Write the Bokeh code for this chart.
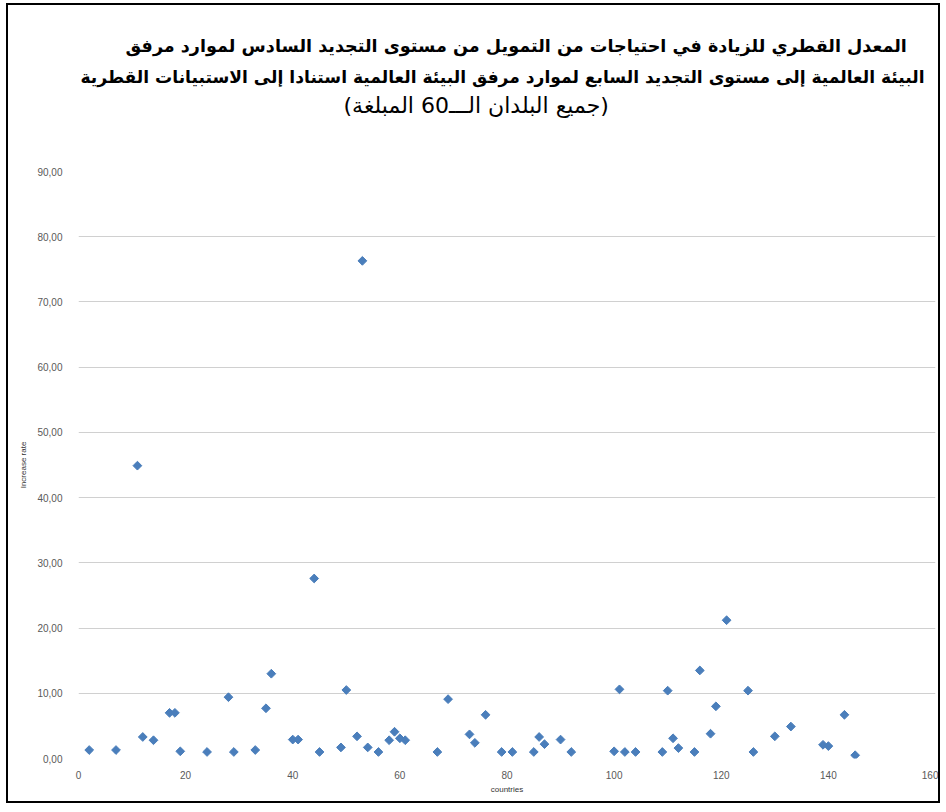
from bokeh.plotting import figure
from bokeh.models import Title, FixedTicker, ColumnDataSource, Range1d
from bokeh.embed import file_html
from bokeh.resources import INLINE

title_line1 = "المعدل القطري للزيادة في احتياجات من التمويل من مستوى التجديد السادس لموارد مرفق"
title_line2 = "البيئة العالمية إلى مستوى التجديد السابع لموارد مرفق البيئة العالمية استنادا إلى الاستبيانات القطرية"
title_line3 = "(جميع البلدان الـــ60 المبلغة)"
x_title = "countries"
y_title = "Increase rate"

x_ticks = [0, 20, 40, 60, 80, 100, 120, 140, 160]
y_ticks = [0, 10, 20, 30, 40, 50, 60, 70, 80, 90]
y_tick_labels = ["0,00", "10,00", "20,00", "30,00", "40,00", "50,00", "60,00", "70,00", "80,00", "90,00"]

country_index = [2, 7, 11, 12, 14, 17, 18, 19, 24, 28, 29, 33, 35, 36, 40, 41, 44, 45,
                 49, 50, 52, 53, 54, 56, 58, 59, 60, 61, 67, 69, 73, 74, 76, 79, 81,
                 85, 86, 87, 90, 92, 100, 101, 102, 104, 109, 110, 111, 112, 115, 116,
                 118, 119, 121, 125, 126, 130, 133, 139, 140, 143, 145]
increase_rate = [1.3, 1.3, 44.9, 3.3, 2.8, 7.0, 7.0, 1.1, 1.0, 9.4, 1.0, 1.3, 7.7, 13.0, 2.9, 2.9, 27.6, 1.0,
                 1.7, 10.5, 3.4, 76.3, 1.7, 1.0, 2.8, 4.1, 3.1, 2.8, 1.0, 9.1, 3.7, 2.4, 6.7, 1.0, 1.0,
                 1.0, 3.3, 2.2, 2.9, 1.0, 1.1, 10.6, 1.0, 1.0, 1.0, 10.4, 3.1, 1.6, 1.0, 13.5,
                 3.8, 8.0, 21.2, 10.4, 1.0, 3.4, 4.9, 2.1, 1.9, 6.7, 0.5]

src = ColumnDataSource(dict(x=country_index, y=increase_rate))

p = figure(width=934, height=800, output_backend="svg", toolbar_location=None,
           title_location=None,
           x_range=Range1d(0, 160), y_range=Range1d(0, 90),
           min_border_left=70, min_border_right=7, min_border_top=166, min_border_bottom=47)
p.styles = {"border": "2px solid black", "margin-left": "6px", "margin-top": "3px"}
p.outline_line_color = None
p.background_fill_color = "white"

p.scatter("x", "y", source=src, marker="square", size=6.2, angle=0.785398, color="#4A7EBB")

p.xaxis.ticker = FixedTicker(ticks=x_ticks)
p.yaxis.ticker = FixedTicker(ticks=y_ticks)
p.yaxis.major_label_overrides = {t: l for t, l in zip(y_ticks, y_tick_labels)}
for ax in (p.xaxis, p.yaxis):
    ax.axis_line_color = None
    ax.major_tick_line_color = None
    ax.minor_tick_line_color = None
    ax.major_label_text_font = "Liberation Sans"
    ax.major_label_text_font_size = "10px"
    ax.major_label_text_color = "#595959"
    ax.axis_label_text_font = "Liberation Sans"
    ax.axis_label_text_font_size = "8px"
    ax.axis_label_text_font_style = "normal"
    ax.axis_label_text_color = "#333333"
p.xaxis.major_label_standoff = 6
p.yaxis.major_label_standoff = 10
p.xaxis.axis_label = x_title
p.yaxis.axis_label = y_title
p.xaxis.axis_label_standoff = 3
p.yaxis.axis_label_standoff = 6

p.xgrid.grid_line_color = None
p.ygrid.grid_line_color = "#D0D0D0"
p.ygrid.grid_line_width = 1

spacer = Title(text=" ", align="center", text_font="DejaVu Sans", text_font_size="10px", standoff=40)
t3 = Title(text=title_line3, align="left", offset=265, text_font="DejaVu Sans", text_font_size="22px",
           text_font_style="normal", text_color="black", standoff=2)
t2 = Title(text=title_line2, align="left", offset=2, text_font="DejaVu Sans", text_font_size="17.1px",
           text_font_style="bold", text_color="black", standoff=5)
t1 = Title(text=title_line1, align="left", offset=47, text_font="DejaVu Sans", text_font_size="17.6px",
           text_font_style="bold", text_color="black", standoff=13)
p.add_layout(spacer, "above")
p.add_layout(t3, "above")
p.add_layout(t2, "above")
p.add_layout(t1, "above")

open("out.html", "w").write(file_html(p, INLINE))
